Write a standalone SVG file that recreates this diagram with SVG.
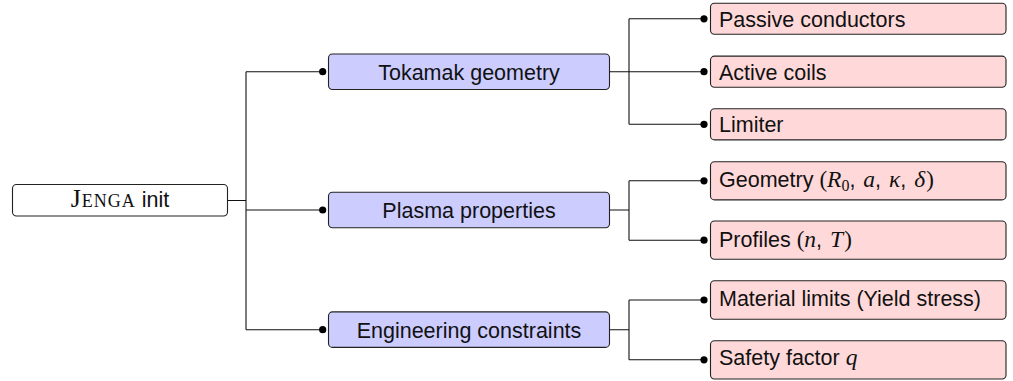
<svg xmlns="http://www.w3.org/2000/svg" width="1013" height="381" viewBox="0 0 1013 381">
  <style>
    .box { stroke: #222; stroke-width: 1.1; }
    .root { fill: #ffffff; }
    .mid { fill: #ccccff; }
    .leaf { fill: #ffd9d9; }
    .lbl { font-family: "Liberation Sans", Arial, sans-serif; font-size: 21.5px; fill: #111; }
    .mid-lbl { text-anchor: middle; }
    .rm { font-family: "Liberation Serif", "Times New Roman", serif; font-size: 23px; }
    .sc { font-family: "Liberation Serif", "Times New Roman", serif; font-size: 26px; font-variant: small-caps; letter-spacing: 1px; }
    .mi { font-family: "Liberation Serif", "Times New Roman", serif; font-style: italic; font-size: 23.5px; }
    .sub { font-family: "Liberation Serif", "Times New Roman", serif; font-size: 16px; }
    .wire { fill: none; stroke: #111; stroke-width: 1.1; }
    .dot { fill: #000; }
  </style>

  <g id="connectors">
    <!-- root to first level -->
    <path class="wire" d="M227.5,200.5 H246 M246,71.7 V329.7 M246,71.7 H322.7 M246,210 H322.7 M246,329.7 H322.7"/>
    <!-- Tokamak geometry branch -->
    <path class="wire" d="M609.5,71.7 H629 M629,18.8 V124.3 M629,18.8 H704 M629,71.7 H704 M629,124.3 H704"/>
    <!-- Plasma properties branch -->
    <path class="wire" d="M609.5,210 H629 M629,180.8 V240.2 M629,180.8 H704 M629,240.2 H704"/>
    <!-- Engineering constraints branch -->
    <path class="wire" d="M609.5,329.7 H629 M629,300 V359.8 M629,300 H704 M629,359.8 H704"/>
    <circle class="dot" cx="322.7" cy="71.7" r="3.6"/>
    <circle class="dot" cx="322.7" cy="210" r="3.6"/>
    <circle class="dot" cx="322.7" cy="329.7" r="3.6"/>
    <circle class="dot" cx="704" cy="18.8" r="3.6"/>
    <circle class="dot" cx="704" cy="71.7" r="3.6"/>
    <circle class="dot" cx="704" cy="124.3" r="3.6"/>
    <circle class="dot" cx="704" cy="180.8" r="3.6"/>
    <circle class="dot" cx="704" cy="240.2" r="3.6"/>
    <circle class="dot" cx="704" cy="300" r="3.6"/>
    <circle class="dot" cx="704" cy="359.8" r="3.6"/>
  </g>

  <g id="jenga-init">
    <rect class="box root" x="12.5" y="184.5" width="215" height="31.5" rx="4"/>
    <text class="lbl mid-lbl" x="120" y="207"><tspan class="sc">Jenga</tspan> init</text>
  </g>

  <g id="tokamak-geometry">
    <rect class="box mid" x="328.5" y="54" width="281" height="35.5" rx="4"/>
    <text class="lbl mid-lbl" x="469" y="79.5">Tokamak geometry</text>
  </g>

  <g id="plasma-properties">
    <rect class="box mid" x="328.5" y="192.3" width="281" height="35.5" rx="4"/>
    <text class="lbl mid-lbl" x="469" y="218">Plasma properties</text>
  </g>

  <g id="engineering-constraints">
    <rect class="box mid" x="328.5" y="311.9" width="281" height="35.5" rx="4"/>
    <text class="lbl mid-lbl" x="469" y="337.5">Engineering constraints</text>
  </g>

  <g id="passive-conductors">
    <rect class="box leaf" x="710.5" y="3.3" width="295.5" height="31" rx="4"/>
    <text class="lbl" x="719" y="26.7">Passive conductors</text>
  </g>

  <g id="active-coils">
    <rect class="box leaf" x="710.5" y="56.1" width="295.5" height="31.2" rx="4"/>
    <text class="lbl" x="719" y="79.5">Active coils</text>
  </g>

  <g id="limiter">
    <rect class="box leaf" x="710.5" y="108.7" width="295.5" height="31.2" rx="4"/>
    <text class="lbl" x="719" y="132.2">Limiter</text>
  </g>

  <g id="plasma-geometry">
    <rect class="box leaf" x="710.5" y="161.7" width="295.5" height="38.2" rx="4"/>
    <text class="lbl" x="719" y="187.3">Geometry <tspan class="rm">(</tspan><tspan class="mi">R</tspan><tspan class="sub" dy="4">0</tspan><tspan dy="-4">, </tspan><tspan class="mi" dx="2">a</tspan>, <tspan class="mi" dx="2">κ</tspan>, <tspan class="mi" dx="2">δ</tspan><tspan class="rm" dx="1">)</tspan></text>
  </g>

  <g id="profiles">
    <rect class="box leaf" x="710.5" y="221" width="295.5" height="38.3" rx="4"/>
    <text class="lbl" x="719" y="246.7">Profiles <tspan class="rm">(</tspan><tspan class="mi">n</tspan>, <tspan class="mi" dx="2">T</tspan><tspan class="rm" dx="1">)</tspan></text>
  </g>

  <g id="material-limits">
    <rect class="box leaf" x="710.5" y="280.7" width="295.5" height="38.6" rx="4"/>
    <text class="lbl" x="719" y="306.2">Material limits (Yield stress)</text>
  </g>

  <g id="safety-factor">
    <rect class="box leaf" x="710.5" y="340.7" width="295.5" height="38.3" rx="4"/>
    <text class="lbl" x="719" y="364.7">Safety factor <tspan class="mi">q</tspan></text>
  </g>
</svg>
